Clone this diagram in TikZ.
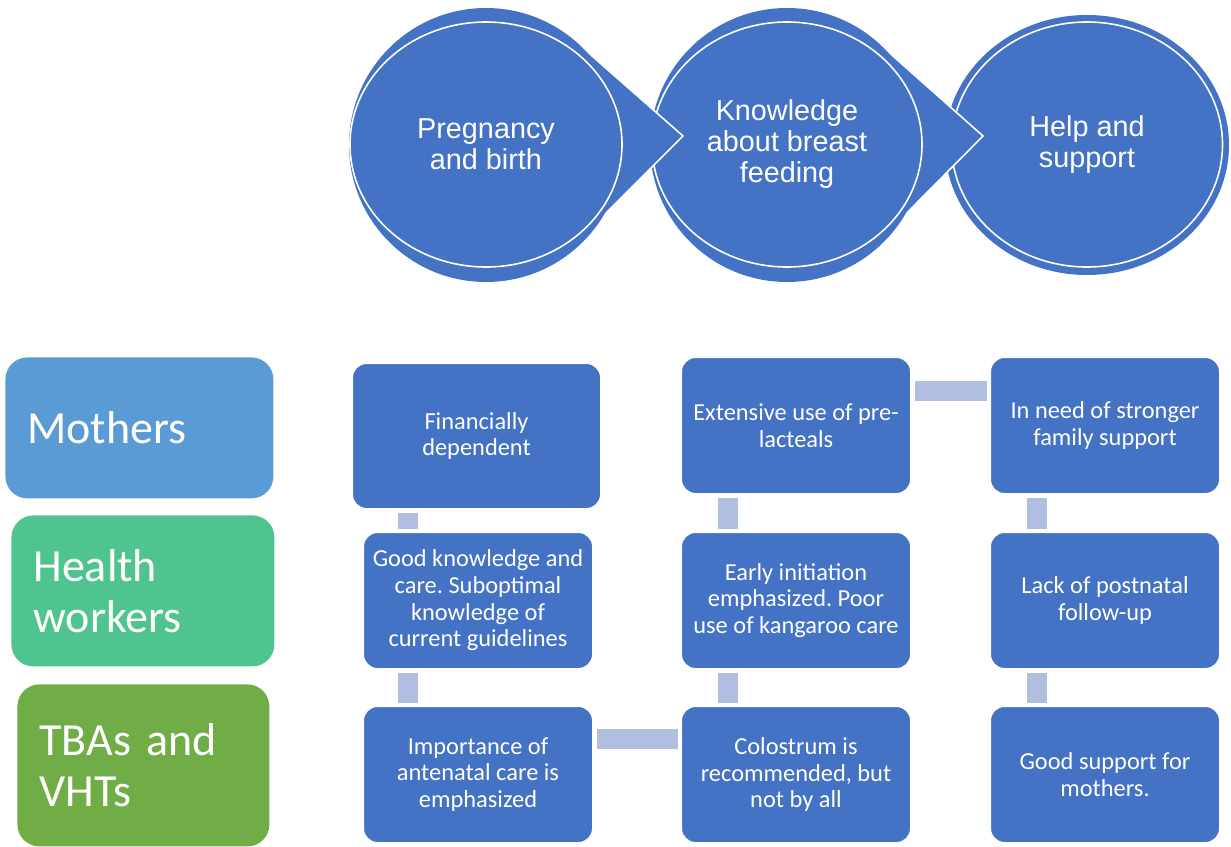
\documentclass[tikz,border=0pt]{standalone}
\usepackage{fontspec}
\setmainfont{Carlito}
\newfontfamily\arialfont{Liberation Sans}
\usetikzlibrary{shapes.geometric}
\frenchspacing

\definecolor{boxblue}{HTML}{4472C4}
\definecolor{linkblue}{HTML}{B0BEE0}
\definecolor{mothblue}{HTML}{5B9BD5}
\definecolor{hwgreen}{HTML}{4FC48E}
\definecolor{tbagreen}{HTML}{70AD47}

\tikzset{
  stage/.style={ellipse, fill=boxblue, draw=white, line width=0.8pt, inner sep=0pt,
    text=white, align=center, font=\arialfont\fontsize{14.4}{15.5}\selectfont},
  chevron/.style={fill=boxblue, draw=white, line width=0.8pt},
  group/.style={rectangle, rounded corners=11pt, anchor=north west, text=white,
    align=left, inner xsep=11pt, font=\fontsize{23}{25.5}\selectfont},
  item/.style={rectangle, rounded corners=7pt, fill=boxblue, draw=white, line width=0.5pt,
    anchor=north west, text=white, align=center, minimum width=114.5pt,
    minimum height=68pt, font=\fontsize{12.2}{13.3}\selectfont},
  link/.style={draw=linkblue, line width=10pt, shorten <=1.75pt, shorten >=1.75pt}
}

\begin{document}
\begin{tikzpicture}[x=0.5pt,y=-0.5pt]
\useasboundingbox (0,0) rectangle (1231,846);

% stages, drawn right to left so each tip lies on the next circle
\fill[boxblue] (1087,145) ellipse [x radius=71pt, y radius=65pt];
\node[stage, minimum width=135.5pt, minimum height=122.5pt] (help) at (1087,144.5) {Help and\\support};

\filldraw[chevron] (876,41) -- (983,136) -- (876,244);
\fill[boxblue] (787,145) circle [radius=68.5pt];
\node[stage, minimum width=135pt, minimum height=122.5pt] (know) at (787,144.5) {Knowledge\\about breast\\feeding};

\filldraw[chevron] (575,41) -- (683,136) -- (575,244);
\fill[boxblue] (486,145) circle [radius=68.5pt];
\node[stage, minimum width=136pt, minimum height=122.5pt] (preg) at (486,144.5) {Pregnancy\\and birth};

% groups
\node[group, fill=mothblue, text width=112pt, minimum height=70.5pt] (moth) at (5,357) {Mothers};
\node[group, fill=hwgreen, text width=109.5pt, minimum height=75.5pt] (hw) at (11,515) {Health\\workers};
\node[group, fill=tbagreen, text width=104pt, minimum height=81pt] (tba) at (17,684) {TBAs and\\VHTs};

% findings
\node[item, minimum width=124pt, minimum height=72.5pt] (fin) at (352,363) {Financially\\dependent};
\node[item] (gk) at (363,532) {Good knowledge and\\care. Suboptimal\\knowledge of\\current guidelines};
\node[item] (imp) at (363,706) {Importance of\\antenatal care is\\emphasized};

\node[item] (ext) at (681,357) {Extensive use of pre-\\lacteals};
\node[item] (early) at (681,532) {Early initiation\\emphasized. Poor\\use of kangaroo care};
\node[item] (colo) at (681,706) {Colostrum is\\recommended, but\\not by all};

\node[item] (need) at (990,357) {In need of stronger\\family support};
\node[item] (lack) at (990,532) {Lack of postnatal\\follow-up};
\node[item] (gsup) at (990,706) {Good support for\\mothers.};

% links
\draw[link] ([xshift=28pt]fin.south west) -- ([xshift=22.5pt]gk.north west);
\draw[link] ([xshift=22.5pt]gk.south west) -- ([xshift=22.5pt]imp.north west);
\draw[link] ([yshift=-16.25pt]imp.north east) -- ([yshift=-16.25pt]colo.north west);
\draw[link] ([xshift=23.25pt]ext.south west) -- ([xshift=23.25pt]early.north west);
\draw[link] ([xshift=23.25pt]early.south west) -- ([xshift=23.25pt]colo.north west);
\draw[link] ([yshift=-16.75pt]ext.north east) -- ([yshift=-16.75pt]need.north west);
\draw[link] ([xshift=23.5pt]need.south west) -- ([xshift=23.5pt]lack.north west);
\draw[link] ([xshift=23.5pt]lack.south west) -- ([xshift=23.5pt]gsup.north west);

\end{tikzpicture}
\end{document}
